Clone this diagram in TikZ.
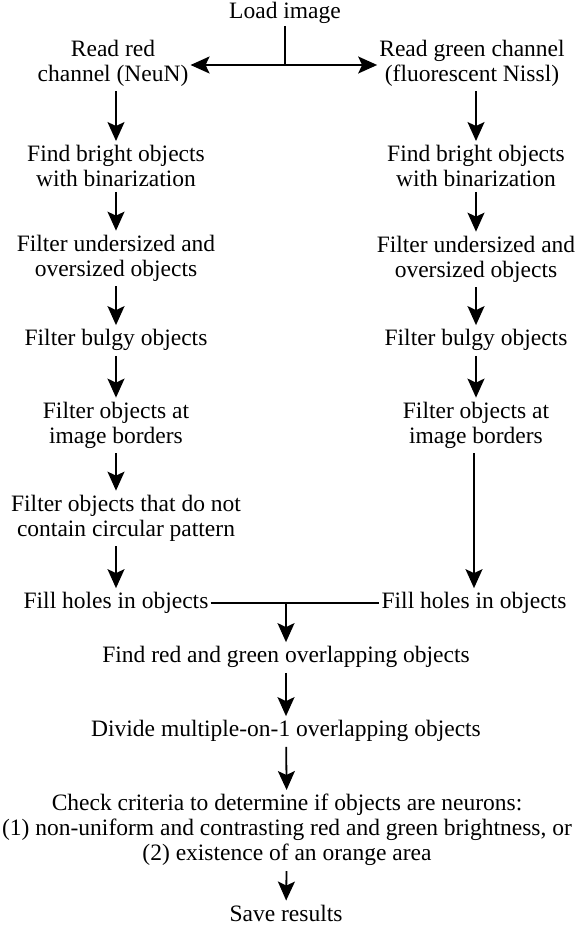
\documentclass[tikz,border=0pt]{standalone}
\usepackage{fontspec}
\setmainfont{Liberation Serif}
\usetikzlibrary{arrows.meta}
\tikzset{
  txt/.style={align=center,inner sep=2pt,font=\rmfamily\fontsize{23.5}{25}\selectfont},
  arr/.style={-{Stealth[length=19pt,width=17pt,inset=4pt]},line width=1.8pt,shorten <=3pt,shorten >=2pt},
  ln/.style={line width=1.8pt}
}
\begin{document}
\begin{tikzpicture}[x=1pt,y=-1pt]
\useasboundingbox (0,0) rectangle (574,928);

\node[txt] (load) at (285,13) {Load image};
\node[txt] (redA) at (113,63) {Read red\\channel (NeuN)};
\node[txt] (grnA) at (472,63) {Read green channel\\(fluorescent Nissl)};

\node[txt] (redB) at (116,166) {Find bright objects\\with binarization};
\node[txt] (grnB) at (476,166) {Find bright objects\\with binarization};
\node[txt] (redC) at (116,258) {Filter undersized and\\oversized objects};
\node[txt] (grnC) at (476,259) {Filter undersized and\\oversized objects};
\node[txt] (redD) at (116,340) {Filter bulgy objects};
\node[txt] (grnD) at (476,340) {Filter bulgy objects};
\node[txt] (redE) at (116,425) {Filter objects at\\image borders};
\node[txt] (grnE) at (476,425) {Filter objects at\\image borders};
\node[txt] (redF) at (126,518) {Filter objects that do not\\contain circular pattern};
\node[txt] (redG) at (116,603) {Fill holes in objects};
\node[txt] (grnG) at (474,603) {Fill holes in objects};

\node[txt] (overlap) at (286,657) {Find red and green overlapping objects};
\node[txt] (divide) at (286,731) {Divide multiple-on-1 overlapping objects};
\node[txt] (check) at (287,830) {Check criteria to determine if objects are neurons:\\(1) non-uniform and contrasting red and green brightness, or\\(2) existence of an orange area};
\node[txt] (save) at (286,913) {Save results};

% split to the two channels
\coordinate (split) at (load.south |- 0,65);
\draw[ln] (load.south) -- (split);
\draw[arr,shorten <=0pt,shorten >=0pt] (split) -- (redA.east |- split);
\draw[arr,shorten <=0pt,shorten >=0pt] (split) -- (grnA.west |- split);

% red channel
\draw[arr] (redA.south -| 116,0) -- (redB.north);
\draw[arr] (redB) -- (redC);
\draw[arr] (redC) -- (redD);
\draw[arr] (redD) -- (redE);
\draw[arr] (redE) -- (redF.north -| redE);
\draw[arr] (redF.south -| redG) -- (redG);

% green channel
\draw[arr] (grnA.south -| grnB) -- (grnB.north);
\draw[arr] (grnB) -- (grnC);
\draw[arr] (grnC) -- (grnD);
\draw[arr] (grnD) -- (grnE);
\draw[arr] (grnE.south -| grnG) -- (grnG.north);

% merge
\coordinate (merge) at (overlap.north |- redG);
\draw[ln] (redG.east) -- (grnG.west);
\draw[arr,shorten <=0pt] (merge) -- (overlap.north);
\draw[arr] (overlap) -- (divide);
\draw[arr] (divide) -- (check);
\draw[arr] (check) -- (save);
\end{tikzpicture}
\end{document}
